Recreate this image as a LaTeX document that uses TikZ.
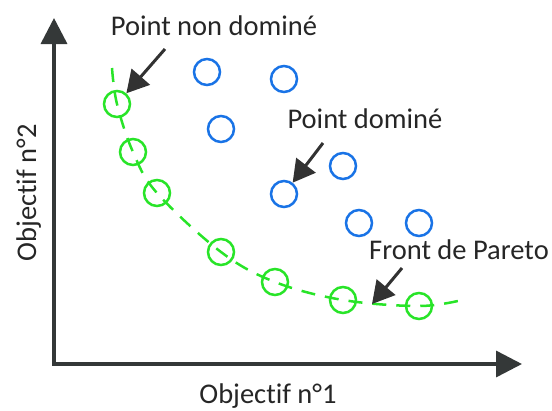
\documentclass[tikz,border=0pt]{standalone}
\usepackage{fontspec}
\setmainfont{Carlito}[Ligatures=NoCommon]
\usetikzlibrary{arrows.meta}
\definecolor{axisgray}{RGB}{52,56,56}
\definecolor{ptrgray}{RGB}{50,50,50}
\definecolor{frontgreen}{RGB}{40,228,40}
\definecolor{dotblue}{RGB}{25,115,230}
\tikzset{
  axis/.style  = {draw=axisgray, line width=3.5pt,
                  {Triangle[length=26pt,width=26pt]}-{Triangle[length=26pt,width=26pt]}},
  ptr/.style   = {draw=ptrgray, line width=3pt,
                  -{Triangle[length=22pt,width=24pt]}},
  pt/.style    = {circle, draw, line width=2.5pt, minimum size=26pt, inner sep=0pt},
  nd/.style    = {pt, draw=frontgreen},
  dom/.style   = {pt, draw=dotblue},
  front/.style = {draw=frontgreen, line width=2.5pt, dash pattern=on 14pt off 10pt},
  lbl/.style   = {font=\fontsize{28.5}{31}\selectfont, text=black!85, anchor=base, inner sep=0pt}
}

\begin{document}
\begin{tikzpicture}[x=1pt,y=-1pt]
  \useasboundingbox (0,0) rectangle (552,410);
  % axes
  \draw[axis] (54,18) -- (54,364) -- (522,364);
  \node[lbl] (xlab) at (268,403) {Objectif n°1};
  \node[lbl,rotate=90] (ylab) at (36,193) {Objectif n°2};
  % front de Pareto
  \draw[front] plot[smooth,tension=0.6] coordinates
    {(112,68) (117,104) (133,152) (157,193) (221,252) (275,282)
     (343,300) (419,306) (462,300)};
  \node[nd] (g1) at (117,104) {};
  \node[nd] (g2) at (133,152) {};
  \node[nd] (g3) at (157,193) {};
  \node[nd] (g4) at (221,252) {};
  \node[nd] (g5) at (275,282) {};
  \node[nd] (g6) at (343,300) {};
  \node[nd] (g7) at (419,306) {};
  % points domines
  \node[dom] (b1) at (207,72) {};
  \node[dom] (b2) at (284,79) {};
  \node[dom] (b3) at (221,129) {};
  \node[dom] (b4) at (343,166) {};
  \node[dom] (b5) at (284,194) {};
  \node[dom] (b6) at (359,223) {};
  \node[dom] (b7) at (419,223) {};
  % labels
  \node[lbl] (nonDom) at (214,35) {Point non dominé};
  \node[lbl] (dom) at (365,128) {Point dominé};
  \node[lbl] (pareto) at (459,259) {Front de Pareto};
  \coordinate (nonDomTail) at (165,49);
  \coordinate (domTail) at (323,143);
  \coordinate (paretoTail) at (402,268);
  \coordinate (paretoTip) at (372,304);
  \draw[ptr] (nonDomTail) -- (g1);
  \draw[ptr] (domTail) -- (b5);
  \draw[ptr] (paretoTail) -- (paretoTip);
\end{tikzpicture}
\end{document}
